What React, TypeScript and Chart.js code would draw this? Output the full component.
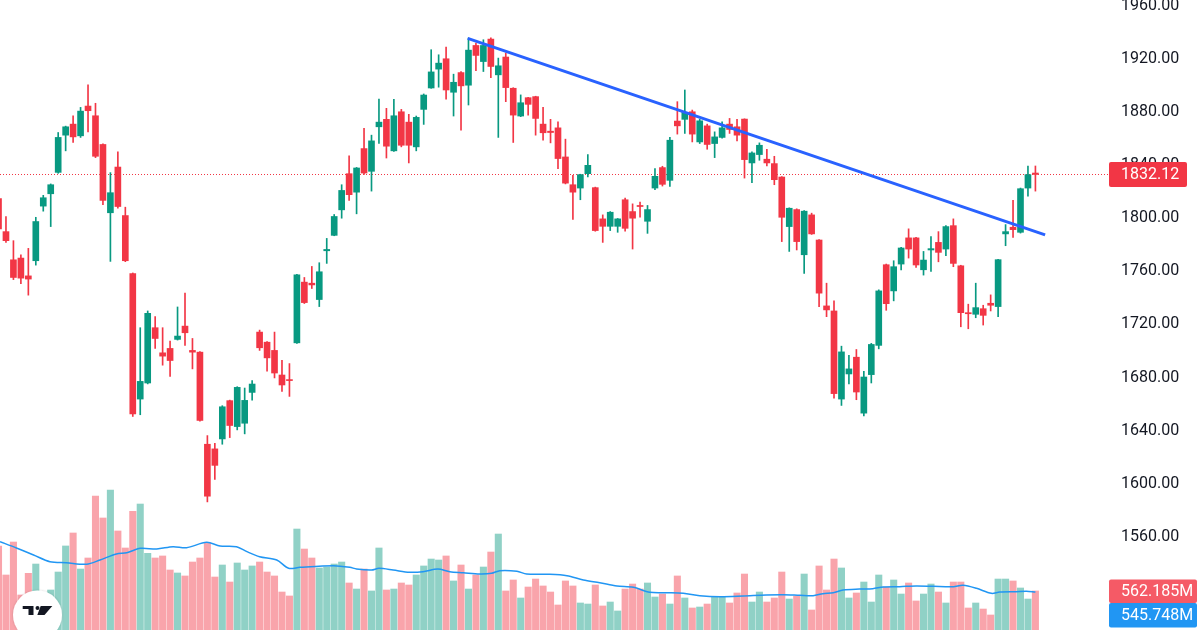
import React, { useEffect, useRef } from "react";
import { Chart, registerables } from "chart.js";

Chart.register(...registerables);

// ---- Candle data (index = bar number) ----
const opens = [
  1813.9, 1789.1, 1767.9, 1769.2, 1755.8, 1767.2, 1808.3, 1817.6, 1833.7, 1861.7,
  1870.0, 1861.2, 1883.6, 1876.3, 1854.7, 1803.3, 1837.7, 1801.2, 1757.6, 1663.1,
  1675.2, 1716.8, 1697.9, 1701.2, 1708.0, 1718.0, 1699.7, 1698.4, 1629.1, 1625.6,
  1633.1, 1661.9, 1642.4, 1644.9, 1668.1, 1713.5, 1705.9, 1699.7, 1681.2, 1677.7,
  1705.4, 1751.1, 1750.3, 1738.0, 1774.7, 1786.3, 1805.5, 1832.7, 1818.8, 1851.6,
  1834.5, 1868.0, 1873.6, 1849.9, 1879.3, 1871.5, 1852.9, 1881.1, 1897.2, 1911.4,
  1919.2, 1894.0, 1908.8, 1899.3, 1929.2, 1917.1, 1934.0, 1907.1, 1920.5, 1897.0,
  1876.1, 1889.9, 1890.7, 1870.0, 1864.7, 1867.2, 1845.3, 1824.4, 1821.9, 1832.7,
  1822.2, 1798.7, 1793.1, 1793.1, 1813.1, 1804.2, 1808.8, 1796.9, 1821.9, 1837.3,
  1827.7, 1872.3, 1873.6, 1879.3, 1856.6, 1868.7, 1855.4, 1860.0, 1870.0, 1868.0,
  1873.8, 1840.8, 1847.1, 1843.6, 1840.3, 1830.2, 1792.9, 1805.7, 1771.7, 1801.7,
  1782.8, 1733.2, 1729.4, 1663.1, 1682.0, 1694.6, 1652.5, 1681.5, 1703.5, 1764.2,
  1744.5, 1764.7, 1784.4, 1784.4, 1760.4, 1775.3, 1781.0, 1776.0, 1793.6, 1763.4,
  1728.1, 1726.9, 1731.1, 1735.2, 1732.7, 1787.4, 1792.4, 1788.6, 1821.9, 1833.2,
];
const highs = [
  1815.6, 1800.5, 1782.3, 1771.7, 1776.5, 1799.9, 1816.4, 1825.0, 1863.7, 1868.5,
  1876.3, 1882.6, 1899.5, 1885.7, 1855.2, 1833.5, 1849.1, 1807.5, 1758.0, 1716.8,
  1729.4, 1725.1, 1716.8, 1706.7, 1732.4, 1742.8, 1708.7, 1698.8, 1635.6, 1629.8,
  1658.1, 1662.3, 1672.4, 1671.4, 1677.0, 1715.0, 1706.3, 1713.5, 1692.3, 1689.8,
  1756.9, 1754.6, 1762.9, 1765.7, 1784.0, 1802.0, 1824.4, 1846.1, 1837.4, 1866.8,
  1861.7, 1888.9, 1881.9, 1888.7, 1881.1, 1877.4, 1876.1, 1892.7, 1926.0, 1922.2,
  1928.0, 1907.6, 1909.6, 1934.8, 1931.0, 1933.5, 1935.0, 1919.7, 1923.5, 1897.4,
  1892.0, 1890.2, 1891.0, 1882.6, 1873.6, 1871.8, 1858.7, 1831.5, 1832.3, 1847.1,
  1822.6, 1801.7, 1804.2, 1799.0, 1814.3, 1810.0, 1811.3, 1808.8, 1836.5, 1838.3,
  1860.0, 1886.9, 1895.7, 1880.6, 1873.6, 1870.0, 1864.2, 1871.8, 1874.3, 1873.6,
  1874.0, 1849.1, 1855.9, 1851.1, 1845.8, 1830.5, 1807.0, 1806.3, 1805.0, 1803.0,
  1783.1, 1750.3, 1737.0, 1702.9, 1696.1, 1700.4, 1684.0, 1705.0, 1745.3, 1764.7,
  1767.2, 1777.3, 1791.2, 1784.8, 1774.2, 1785.3, 1789.1, 1793.6, 1798.7, 1763.8,
  1734.5, 1750.3, 1733.7, 1741.5, 1768.3, 1794.4, 1812.6, 1821.9, 1838.5, 1838.5,
];
const lows = [
  1788.4, 1781.0, 1753.0, 1750.0, 1741.3, 1763.9, 1804.5, 1792.9, 1833.0, 1849.9,
  1856.2, 1860.0, 1864.2, 1844.8, 1809.3, 1766.7, 1806.7, 1766.5, 1650.0, 1651.3,
  1674.5, 1701.2, 1688.6, 1680.2, 1707.5, 1703.4, 1685.8, 1646.5, 1585.7, 1602.6,
  1629.1, 1634.1, 1639.9, 1636.9, 1662.3, 1699.7, 1684.0, 1679.0, 1668.9, 1665.1,
  1705.0, 1735.0, 1746.3, 1732.7, 1765.2, 1786.0, 1799.2, 1812.6, 1802.5, 1832.2,
  1819.6, 1855.4, 1844.5, 1849.5, 1852.9, 1840.8, 1849.9, 1869.8, 1897.0, 1897.8,
  1888.7, 1876.1, 1865.5, 1884.4, 1910.3, 1909.6, 1905.0, 1860.0, 1886.9, 1856.2,
  1875.6, 1876.8, 1861.7, 1857.9, 1855.9, 1836.5, 1825.0, 1798.2, 1813.1, 1830.2,
  1789.4, 1781.0, 1789.9, 1788.6, 1789.4, 1776.0, 1799.9, 1787.8, 1820.6, 1823.4,
  1823.1, 1862.5, 1863.0, 1856.6, 1855.4, 1851.1, 1844.8, 1859.5, 1863.0, 1857.4,
  1829.4, 1825.9, 1842.8, 1838.5, 1824.4, 1781.6, 1774.2, 1775.3, 1757.6, 1787.0,
  1732.7, 1725.1, 1663.8, 1658.3, 1674.4, 1662.6, 1650.5, 1675.2, 1700.9, 1729.9,
  1737.0, 1760.2, 1769.2, 1762.1, 1756.4, 1759.1, 1766.4, 1771.0, 1762.7, 1717.5,
  1716.0, 1724.3, 1718.8, 1729.4, 1725.1, 1778.5, 1784.8, 1788.0, 1815.8, 1819.6,
];
const closes = [
  1791.2, 1782.3, 1754.6, 1754.1, 1753.4, 1796.7, 1814.6, 1824.4, 1860.0, 1868.0,
  1860.4, 1879.8, 1880.1, 1845.8, 1812.6, 1818.4, 1808.0, 1767.2, 1652.0, 1676.4,
  1727.6, 1708.7, 1695.4, 1692.1, 1710.5, 1713.0, 1698.4, 1647.0, 1590.0, 1613.2,
  1657.3, 1643.2, 1671.9, 1662.1, 1674.4, 1701.7, 1694.1, 1682.7, 1673.7, 1677.0,
  1756.6, 1735.7, 1749.0, 1758.9, 1775.7, 1800.5, 1820.1, 1816.9, 1837.0, 1833.2,
  1857.4, 1871.5, 1853.4, 1876.3, 1854.1, 1854.1, 1875.1, 1891.9, 1909.3, 1915.9,
  1895.7, 1901.5, 1898.8, 1925.7, 1921.7, 1929.2, 1913.4, 1913.9, 1897.5, 1876.8,
  1886.1, 1884.9, 1874.3, 1863.5, 1863.7, 1844.1, 1825.6, 1818.8, 1832.0, 1839.0,
  1789.9, 1793.1, 1803.7, 1798.7, 1791.6, 1799.2, 1808.0, 1805.7, 1830.7, 1824.7,
  1857.9, 1868.7, 1878.9, 1862.5, 1872.5, 1854.7, 1860.4, 1867.2, 1866.0, 1861.7,
  1843.3, 1848.3, 1854.1, 1840.8, 1828.2, 1799.9, 1806.7, 1781.6, 1804.5, 1787.4,
  1742.8, 1730.2, 1667.2, 1698.6, 1685.8, 1668.4, 1679.7, 1704.2, 1744.5, 1734.9,
  1762.7, 1776.8, 1776.0, 1764.0, 1767.7, 1776.3, 1773.5, 1792.9, 1765.2, 1728.1,
  1727.3, 1731.9, 1726.1, 1733.7, 1768.0, 1789.1, 1790.6, 1821.4, 1832.0, 1832.12,
];
// red/green flags for dojis where the picture colour differs from close-vs-open rounding
const volumes = [
  1210, 792, 1267, 504, 816, 950, 432, 576, 835, 1210,
  1397, 878, 1037, 1930, 1613, 2016, 1426, 1181, 1709, 1814,
  1104, 1037, 1066, 864, 821, 778, 979, 1037, 1253, 763,
  936, 691, 965, 864, 922, 979, 835, 778, 547, 490,
  1454, 1166, 1037, 893, 907, 950, 979, 677, 590, 878,
  562, 1181, 576, 590, 677, 648, 792, 922, 1022, 1008,
  1066, 706, 936, 590, 792, 907, 1123, 1382, 562, 720,
  461, 619, 734, 634, 547, 360, 706, 634, 389, 374,
  648, 346, 403, 274, 590, 662, 590, 677, 475, 518,
  374, 778, 461, 317, 331, 374, 475, 475, 389, 533,
  806, 403, 547, 403, 461, 835, 446, 490, 806, 288,
  922, 576, 1022, 893, 461, 533, 691, 403, 792, 619,
  720, 518, 677, 418, 518, 662, 547, 389, 691, 691,
  317, 389, 302, 216, 734, 734, 706, 605, 446, 562.185,
];
// Volume moving average at these bar positions
const maX = [
  0.2, 2.4, 4.7, 6.9, 9.1, 11.8, 13.6, 15.8, 17.2, 19, 21.2, 23.4, 25.2, 27.9, 29.7,
  31.9, 33.3, 35, 37.3, 38.9, 40.4, 44.9, 47.1, 48, 50, 51, 52.9, 55.1, 56.9, 58.9,
  60.5, 62.3, 64.5, 66.1, 67.2, 69.5, 70.8, 73.9, 76.2, 78.4, 80.6, 82.9, 85.1, 87.3,
  89.6, 91.8, 94, 96.7, 99.8, 102.9, 105.2, 107.4, 109.2, 110.5, 111.9, 113.2, 115.4,
  117.2, 118.6, 120.8, 123, 125.3, 128, 129.3, 131.1, 133.1, 134.2, 136.4, 137.8, 139,
];
const maY = [
  1272, 1181, 1080, 984, 969, 946, 1008, 1094, 1113, 1176, 1166, 1200, 1185, 1263, 1210,
  1200, 1128, 1056, 1008, 888, 903, 926, 903, 878, 864, 888, 864, 831, 840, 878,
  840, 825, 806, 816, 854, 845, 806, 802, 782, 720, 681, 634, 615, 543,
  537, 528, 494, 480, 490, 504, 508, 500, 494, 523, 537, 576, 590,
  595, 619, 624, 634, 629, 624, 644, 600, 528, 547, 552, 557, 545.748,
];
// Trend line drawn on the chart (bar position, price)
const trendX = [62.9, 140.3];
const trendY = [1934.6, 1786.6];
const priceTicks = [1960, 1920, 1880, 1840, 1800, 1760, 1720, 1680, 1640, 1600, 1560];
const lastPrice = 1832.12;
const lastVolume = 562.185;
const lastMA = 545.748;

const UP = "#089981";
const DOWN = "#F23645";
const UP_VOL = "rgba(8,153,129,0.45)";
const DOWN_VOL = "rgba(242,54,69,0.45)";
const FONT = "16px Roboto, 'Liberation Sans', sans-serif";

function roundRect(ctx: CanvasRenderingContext2D, x: number, y: number, w: number, h: number, r: number) {
  ctx.beginPath();
  ctx.moveTo(x + r, y);
  ctx.lineTo(x + w - r, y);
  ctx.quadraticCurveTo(x + w, y, x + w, y + r);
  ctx.lineTo(x + w, y + h - r);
  ctx.quadraticCurveTo(x + w, y + h, x + w - r, y + h);
  ctx.lineTo(x + r, y + h);
  ctx.quadraticCurveTo(x, y + h, x, y + h - r);
  ctx.lineTo(x, y + r);
  ctx.quadraticCurveTo(x, y, x + r, y);
  ctx.closePath();
}

export default function App() {
  const ref = useRef<HTMLCanvasElement>(null);

  useEffect(() => {
    document.body.style.margin = "0";
    const idx = opens.map((_, i) => i);
    const up = idx.map((i) => closes[i] >= opens[i]);

    const tvPlugin = {
      id: "tvLabels",
      beforeDatasetsDraw(chart: any) {
        const { ctx, chartArea, scales } = chart;
        const y = Math.round(scales.y.getPixelForValue(lastPrice)) + 0.5;
        ctx.save();
        ctx.strokeStyle = DOWN;
        ctx.lineWidth = 1;
        ctx.setLineDash([1, 2]);
        ctx.beginPath();
        ctx.moveTo(chartArea.left, y);
        ctx.lineTo(chartArea.right, y);
        ctx.stroke();
        ctx.restore();
      },
      afterDraw(chart: any) {
        const { ctx, chartArea, scales } = chart;
        const ax = chartArea.right;
        ctx.save();
        ctx.font = FONT;
        ctx.textBaseline = "middle";
        ctx.textAlign = "left";
        ctx.fillStyle = "#131722";
        priceTicks.forEach((v) => {
          const y = scales.y.getPixelForValue(v);
          ctx.fillText(v.toFixed(2), ax + 13, y + 1);
        });
        // last price box
        const py = scales.y.getPixelForValue(lastPrice);
        ctx.fillStyle = DOWN;
        roundRect(ctx, ax + 1, py - 12.5, 78, 25, 2);
        ctx.fill();
        ctx.fillStyle = "#ffffff";
        ctx.fillText(lastPrice.toFixed(2), ax + 13, py + 1);
        // volume + MA boxes
        const vy = scales.yv.getPixelForValue(lastVolume);
        const vTop = vy - 11.5;
        ctx.fillStyle = "#F55A66";
        roundRect(ctx, ax + 1, vTop, 88, 23.5, 2);
        ctx.fill();
        ctx.fillStyle = "#ffffff";
        ctx.fillText(lastVolume.toFixed(3) + "M", ax + 13, vTop + 12.5);
        const my = scales.yv.getPixelForValue(lastMA);
        const mTop = Math.max(my - 11.5, vTop + 23.5);
        ctx.fillStyle = "#2196F3";
        roundRect(ctx, ax + 1, mTop, 88, 24.5, 2);
        ctx.fill();
        ctx.fillStyle = "#ffffff";
        ctx.fillText(lastMA.toFixed(3) + "M", ax + 13, mTop + 13);
        ctx.restore();
      },
    };

    const chart = new Chart(ref.current as HTMLCanvasElement, {
      type: "bar",
      data: {
        datasets: [
          {
            type: "line",
            label: "trend",
            data: trendX.map((x, k) => ({ x, y: trendY[k] })),
            borderColor: "#2962FF",
            borderWidth: 3,
            pointRadius: 0,
            yAxisID: "y",
            order: -1,
          } as any,
          {
            type: "bar",
            label: "body",
            data: idx.map((i) => ({ x: i, y: [opens[i], closes[i]] })),
            backgroundColor: idx.map((i) => (up[i] ? UP : DOWN)),
            barThickness: 6,
            grouped: false,
            minBarLength: 1,
            yAxisID: "y",
            order: 0,
          } as any,
          {
            type: "bar",
            label: "wick",
            data: idx.map((i) => ({ x: i, y: [lows[i], highs[i]] })),
            backgroundColor: idx.map((i) => (up[i] ? UP : DOWN)),
            barThickness: 1,
            grouped: false,
            yAxisID: "y",
            order: 1,
          } as any,
          {
            type: "line",
            label: "volume MA",
            data: maX.map((x, k) => ({ x, y: maY[k] })),
            borderColor: "#2196F3",
            borderWidth: 1.5,
            pointRadius: 0,
            tension: 0.3,
            yAxisID: "yv",
            order: 2,
          } as any,
          {
            type: "bar",
            label: "volume",
            data: idx.map((i) => ({ x: i, y: volumes[i] })),
            backgroundColor: idx.map((i) => (up[i] ? UP_VOL : DOWN_VOL)),
            barThickness: 6.4,
            grouped: false,
            yAxisID: "yv",
            order: 3,
          } as any,
        ],
      },
      options: {
        animation: false,
        responsive: true,
        maintainAspectRatio: false,
        events: [],
        layout: { padding: { left: 0, right: 92, top: 0, bottom: 0 } },
        plugins: { legend: { display: false }, tooltip: { enabled: false } },
        scales: {
          x: { type: "linear", min: 0.2, max: 148.73, display: false, offset: false, grid: { display: false } },
          y: { type: "linear", min: 1489.3, max: 1963.42, display: false },
          yv: { type: "linear", min: 0, max: 9072, display: false },
        },
      } as any,
      plugins: [tvPlugin],
    });
    return () => chart.destroy();
  }, []);

  return (
    <div style={{ position: "fixed", left: 0, top: 0, width: 1200, height: 630, background: "#ffffff", overflow: "hidden" }}>
      <canvas ref={ref} />
      <svg
        width="60"
        height="60"
        viewBox="0 0 60 60"
        style={{ position: "absolute", left: 8, top: 585, overflow: "visible" }}
      >
        <defs>
          <filter id="sh" x="-30%" y="-30%" width="160%" height="160%">
            <feDropShadow dx="0" dy="0" stdDeviation="1.2" floodColor="#000" floodOpacity="0.18" />
          </filter>
        </defs>
        <circle cx="29.5" cy="30" r="24.5" fill="#ffffff" filter="url(#sh)" />
        <path d="M14.7 21 H25.5 V30 H20.5 V24 H14.7 Z" fill="#131722" />
        <circle cx="29.5" cy="23" r="2" fill="#131722" />
        <path d="M32.7 21 H44.3 L36.5 30 H29.3 Z" fill="#131722" />
      </svg>
    </div>
  );
}
